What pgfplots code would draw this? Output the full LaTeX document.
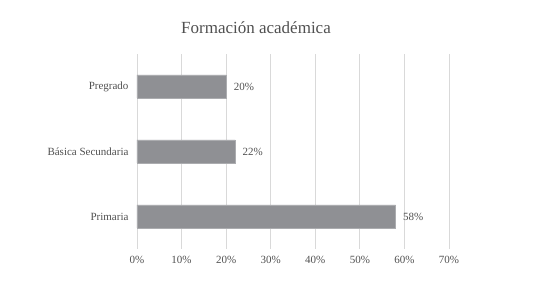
\documentclass[border=0pt]{standalone}
\usepackage{pgfplots}
\pgfplotsset{compat=1.18}
\usepackage{fontspec}
\setmainfont{Liberation Serif}
\definecolor{txt}{HTML}{505050}
\definecolor{barc}{HTML}{8F9094}
\definecolor{gridc}{HTML}{D9D9D9}
\begin{document}
\begin{tikzpicture}[x=1pt,y=1pt]
\path[use as bounding box] (0,0) rectangle (550,283);
\begin{axis}[
  at={(137pt,34pt)}, anchor=south west,
  scale only axis, width=312pt, height=195pt,
  xbar, bar width=23pt,
  xmin=0, xmax=70, ymin=-0.5, ymax=2.5,
  xtick={0,10,...,70},
  xticklabel={\pgfmathprintnumber{\tick}\%},
  ytick={0,1,2},
  yticklabels={Primaria,Básica Secundaria,Pregrado},
  axis line style={draw=none},
  major tick length=0pt,
  xmajorgrids, ymajorgrids=false,
  major grid style={draw=gridc, line width=0.8pt},
  tick label style={font=\fontsize{11}{13}\selectfont, text=txt},
  /pgf/number format/assume math mode=true,
  xticklabel style={yshift=-4pt},
  yticklabel style={xshift=-5pt},
  nodes near coords={\pgfmathprintnumber{\pgfplotspointmeta}\%},
  nodes near coords style={font=\fontsize{11}{13}\selectfont, text=txt, anchor=west, xshift=4pt},
  clip=false,
]
\addplot[fill=barc, draw=barc!75!white, line width=0.6pt] coordinates {(58,0) (22,1) (20,2)};
\end{axis}
\node[text=txt, font=\fontsize{17}{20}\selectfont] at (256,255) {Formación académica};
\end{tikzpicture}
\end{document}
